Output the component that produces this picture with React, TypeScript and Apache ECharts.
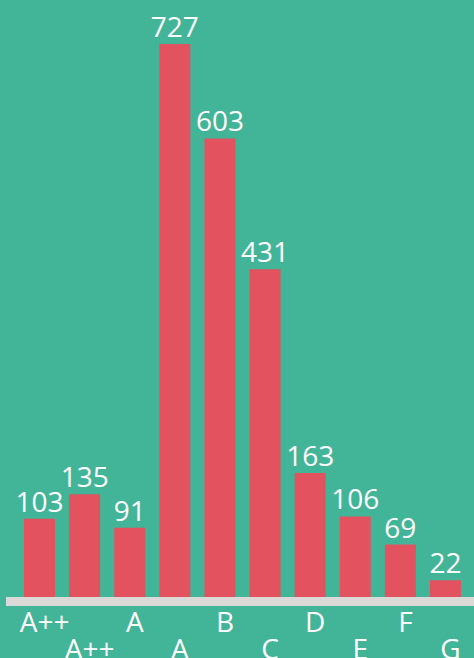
import React, { useEffect, useRef } from "react";
import * as echarts from "echarts";

const categories = ["A++", "A++", "A", "A", "B", "C", "D", "E", "F", "G"];
const values = [103, 135, 91, 727, 603, 431, 163, 106, 69, 22];

const BG = "#42B598";
const BAR = "#E2525F";
const AXIS = "#DCDAD9";
const FONT = "'Open Sans', sans-serif";

export default function App() {
  const ref = useRef<HTMLDivElement>(null);
  useEffect(() => {
    document.body.style.margin = "0";
    const chart = echarts.init(ref.current!, null, { renderer: "svg" });
    chart.setOption({
      animation: false,
      backgroundColor: BG,
      grid: {
        left: 17,
        right: 6,
        top: 0,
        bottom: 61,
        containLabel: false,
        outerBoundsMode: "none",
      },
      xAxis: {
        type: "category",
        data: categories,
        axisLine: { show: false },
        axisTick: { show: false },
        axisLabel: {
          color: "#FFFFFF",
          fontFamily: FONT,
          fontSize: 28,
          lineHeight: 27,
          margin: 10,
          interval: 0,
          padding: [0, 0, 0, 10],
          formatter: (v: string, i: number) => (i % 2 === 1 ? "\n" + v : v),
        },
      },
      yAxis: {
        type: "value",
        min: 0,
        max: 785,
        show: false,
        splitLine: { show: false },
      },
      series: [
        {
          type: "bar",
          data: values,
          barWidth: 31,
          itemStyle: { color: BAR },
          label: {
            show: true,
            position: "top",
            distance: 4,
            color: "#FFFFFF",
            fontFamily: FONT,
            fontSize: 28,
          },
        },
      ],
      graphic: [
        {
          type: "rect",
          left: 6,
          top: 597,
          shape: { width: 468, height: 9 },
          style: { fill: AXIS },
          z: 10,
        },
      ],
    });
    return () => chart.dispose();
  }, []);
  return <div ref={ref} style={{ width: 474, height: 658 }} />;
}
